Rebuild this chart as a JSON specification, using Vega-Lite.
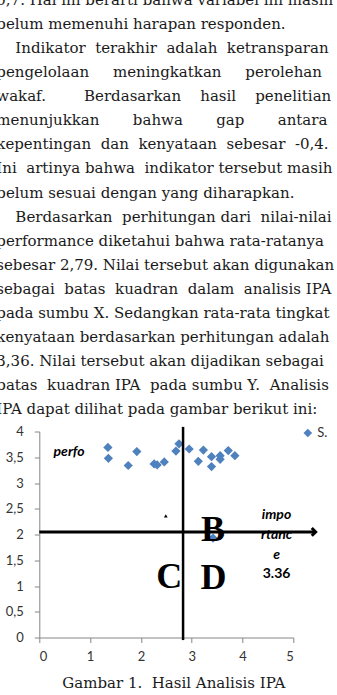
{
  "$schema": "https://vega.github.io/schema/vega-lite/v6.json",
  "width": 254,
  "height": 206,
  "autosize": "none",
  "padding": {"left": 39.3, "top": 431.5, "right": 43.7, "bottom": 57.5},
  "background": "white",
  "config": {"view": {"stroke": null}, "axis": {"labelOverlap": false}},
  "title": {
    "text": [
      "0,7. Hal ini berarti bahwa variabel ini masih",
      "belum memenuhi harapan responden.",
      "\u200b\u00a0\u00a0\u00a0\u00a0Indikator\u00a0\u00a0terakhir\u00a0\u00a0adalah\u00a0\u00a0ketransparan",
      "pengelolaan\u00a0\u00a0\u00a0\u00a0\u00a0meningkatkan\u00a0\u00a0\u00a0\u00a0\u00a0perolehan",
      "wakaf.\u00a0\u00a0\u00a0\u00a0\u00a0\u00a0\u00a0\u00a0Berdasarkan\u00a0\u00a0\u00a0\u00a0hasil\u00a0\u00a0\u00a0\u00a0penelitian",
      "menunjukkan\u00a0\u00a0\u00a0\u00a0\u00a0\u00a0\u00a0bahwa\u00a0\u00a0\u00a0\u00a0\u00a0\u00a0\u00a0gap\u00a0\u00a0\u00a0\u00a0\u00a0\u00a0\u00a0antara",
      "kepentingan\u00a0\u00a0dan\u00a0\u00a0kenyataan\u00a0\u00a0sebesar\u00a0\u00a0-0,4.",
      "Ini\u00a0\u00a0artinya bahwa\u00a0\u00a0indikator tersebut masih",
      "belum sesuai dengan yang diharapkan.",
      "\u200b\u00a0\u00a0\u00a0\u00a0Berdasarkan\u00a0\u00a0perhitungan\u00a0dari\u00a0\u00a0nilai-nilai",
      "performance diketahui bahwa rata-ratanya",
      "sebesar 2,79. Nilai tersebut akan digunakan",
      "sebagai\u00a0\u00a0batas\u00a0\u00a0kuadran\u00a0\u00a0dalam\u00a0\u00a0analisis\u00a0IPA",
      "pada sumbu X. Sedangkan rata-rata tingkat",
      "kenyataan berdasarkan perhitungan adalah",
      "3,36. Nilai tersebut akan dijadikan sebagai",
      "batas\u00a0\u00a0kuadran\u00a0IPA\u00a0\u00a0pada\u00a0sumbu\u00a0Y.\u00a0\u00a0Analisis",
      "IPA dapat dilihat pada gambar berikut ini:"
    ],
    "anchor": "start",
    "frame": "group",
    "dx": -43,
    "offset": 8,
    "font": "DejaVu Serif",
    "fontSize": 15,
    "fontWeight": "normal",
    "lineHeight": 24.1,
    "color": "#1a1a1a"
  },
  "datasets": {
    "pts": [
      {"x": 1.35, "y": 3.69, "s": "S."},
      {"x": 1.36, "y": 3.48, "s": "S."},
      {"x": 1.75, "y": 3.34, "s": "S."},
      {"x": 1.92, "y": 3.61, "s": "S."},
      {"x": 2.26, "y": 3.37, "s": "S."},
      {"x": 2.32, "y": 3.35, "s": "S."},
      {"x": 2.46, "y": 3.41, "s": "S."},
      {"x": 2.69, "y": 3.62, "s": "S."},
      {"x": 2.75, "y": 3.76, "s": "S."},
      {"x": 2.95, "y": 3.66, "s": "S."},
      {"x": 3.23, "y": 3.64, "s": "S."},
      {"x": 3.13, "y": 3.42, "s": "S."},
      {"x": 3.39, "y": 3.51, "s": "S."},
      {"x": 3.56, "y": 3.53, "s": "S."},
      {"x": 3.56, "y": 3.46, "s": "S."},
      {"x": 3.39, "y": 3.32, "s": "S."},
      {"x": 3.72, "y": 3.63, "s": "S."},
      {"x": 3.85, "y": 3.53, "s": "S."},
      {"x": 3.42, "y": 1.93, "s": "S."}
    ]
  },
  "encoding": {
    "x": {
      "field": "x", "type": "quantitative",
      "scale": {"domain": [0, 5], "nice": false, "zero": false},
      "axis": {
        "values": [0, 1, 2, 3, 4, 5],
        "grid": false,
        "domainColor": "#868686",
        "tickColor": "#868686",
        "tickSize": 5,
        "labelFont": "Lato",
        "labelFontSize": 13,
        "labelColor": "#333333",
        "labelPadding": 8,
        "labelOverlap": false,
        "title": "Gambar 1.\u00a0\u00a0Hasil Analisis IPA",
        "titleFont": "DejaVu Serif",
        "titleFontSize": 15,
        "titleFontWeight": "normal",
        "titleColor": "#1a1a1a",
        "titlePadding": 12,
        "titleX": 134
      }
    },
    "y": {
      "field": "y", "type": "quantitative",
      "scale": {"domain": [0, 4], "nice": false, "zero": false},
      "axis": {
        "values": [0, 0.5, 1, 1.5, 2, 2.5, 3, 3.5, 4],
        "tickCount": 9,
        "labelExpr": "replace(format(datum.value, '~g'), '.', ',')",
        "labelOverlap": false,
        "grid": false,
        "domainColor": "#868686",
        "tickColor": "#868686",
        "tickSize": 5,
        "labelFont": "Lato",
        "labelFontSize": 13,
        "labelColor": "#333333",
        "labelPadding": 11,
        "title": null
      }
    }
  },
  "layer": [
    {
      "data": {"name": "pts"},
      "mark": {"type": "point", "shape": "diamond", "filled": true, "size": 85, "opacity": 1},
      "encoding": {
        "color": {
          "field": "s", "type": "nominal",
          "scale": {"range": ["#4F81BD"]},
          "legend": {
            "orient": "none",
            "legendX": 262,
            "legendY": -5,
            "title": null,
            "symbolType": "diamond",
            "symbolSize": 75,
            "labelFont": "Lato",
            "labelFontSize": 13,
            "labelColor": "#333333",
            "labelOffset": 3,
            "padding": 0
          }
        }
      }
    },
    {
      "data": {"values": [{"x": 2.49, "y": 2.36}]},
      "mark": {"type": "point", "shape": "triangle-up", "filled": true, "size": 14, "color": "black", "opacity": 1}
    },
    {
      "data": {"values": [{"x": 2.83, "y": -0.05, "y2": 4.09}]},
      "mark": {"type": "rule", "color": "black", "strokeWidth": 2.5},
      "encoding": {"y2": {"field": "y2"}}
    },
    {
      "data": {"values": [{"t": "B", "x": 3.42, "y": 2.13}, {"t": "C", "x": 2.56, "y": 1.22}, {"t": "D", "x": 3.43, "y": 1.2}]},
      "mark": {"type": "text", "font": "Liberation Serif", "fontWeight": "bold", "fontSize": 36, "color": "black", "baseline": "middle", "align": "center", "dy": 2},
      "encoding": {"text": {"field": "t"}}
    },
    {
      "data": {"values": [{"t": "perfo", "x": 0.28, "y": 3.61}]},
      "mark": {"type": "text", "font": "Lato", "fontWeight": "bold", "fontStyle": "italic", "fontSize": 14, "color": "black", "baseline": "middle", "align": "left"},
      "encoding": {"text": {"field": "t"}}
    },
    {
      "data": {"values": [{"t": "impo", "x": 4.67, "y": 2.38}, {"t": "rtanc", "x": 4.67, "y": 1.99}, {"t": "e", "x": 4.67, "y": 1.6}]},
      "mark": {"type": "text", "font": "Lato", "fontWeight": "bold", "fontStyle": "italic", "fontSize": 14, "color": "black", "baseline": "middle", "align": "center"},
      "encoding": {"text": {"field": "t"}}
    },
    {
      "data": {"values": [{"t": "3.36", "x": 4.67, "y": 1.23}]},
      "mark": {"type": "text", "font": "Lato", "fontWeight": "bold", "fontSize": 14, "color": "black", "baseline": "middle", "align": "center"},
      "encoding": {"text": {"field": "t"}}
    },
    {
      "data": {"values": [{"x": 0, "x2": 5.42, "y": 2.05}]},
      "mark": {"type": "rule", "color": "black", "strokeWidth": 3},
      "encoding": {"x2": {"field": "x2"}}
    },
    {
      "data": {"values": [{"x": 5.44, "y": 2.05}]},
      "mark": {"type": "point", "shape": "M-1,-1L0,0L-1,1", "filled": false, "size": 60, "color": "black", "strokeWidth": 3, "opacity": 1, "strokeJoin": "miter"}
    }
  ]
}
